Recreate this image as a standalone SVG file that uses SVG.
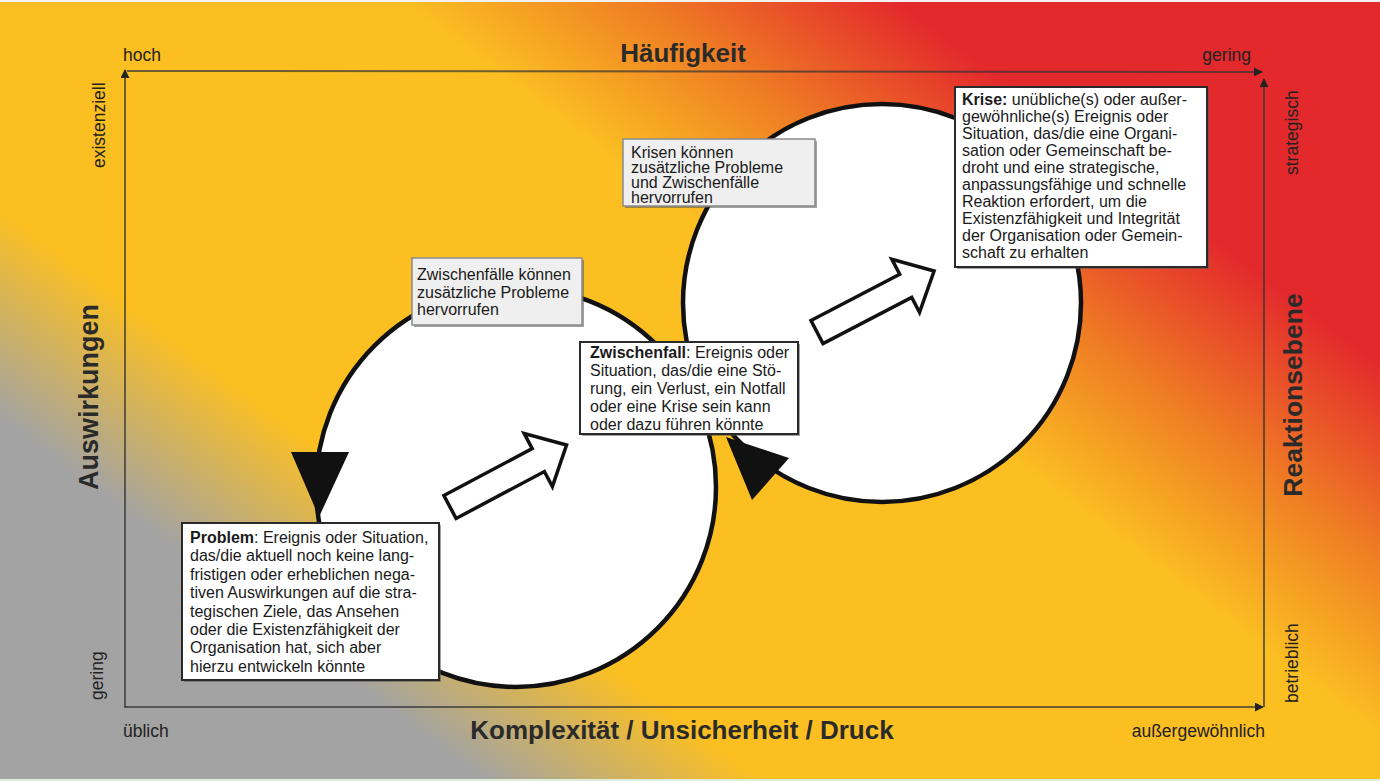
<svg xmlns="http://www.w3.org/2000/svg" width="1380" height="781" viewBox="0 0 1380 781">
  <defs>
    <linearGradient id="bg" gradientUnits="userSpaceOnUse" x1="0" y1="781" x2="871.8" y2="-381.4">
      <stop offset="0" stop-color="#a3a3a3"/>
      <stop offset="0.2" stop-color="#a3a3a3"/>
      <stop offset="0.315" stop-color="#fbbf22"/>
      <stop offset="0.595" stop-color="#fbbf22"/>
      <stop offset="0.692" stop-color="#ef7e24"/>
      <stop offset="0.8" stop-color="#e3292c"/>
      <stop offset="1" stop-color="#e3292c"/>
    </linearGradient>
    <marker id="ah" viewBox="0 0 10 10" refX="9" refY="5" markerWidth="9" markerHeight="9" markerUnits="userSpaceOnUse" orient="auto">
      <path d="M0,0 L10,5 L0,10 Z" fill="#222"/>
    </marker>
    <path id="blockArrow" d="M0,-13 L100,-13 L100,-30 L132,0 L100,30 L100,13 L0,13 Z"/>
  </defs>
  <style>
    .lbl { font-family: "Liberation Sans", Arial, sans-serif; font-size: 17.5px; fill: #222; }
    .ttl { font-family: "Liberation Sans", Arial, sans-serif; font-size: 26px; font-weight: bold; fill: #2a2a2a; }
    .box { font-family: "Liberation Sans", Arial, sans-serif; font-size: 16px; fill: #1a1a1a; }
    .b { font-weight: bold; }
    .axis { stroke: #333; stroke-opacity: 0.7; stroke-width: 2; fill: none; }
    .circ { fill: #ffffff; stroke: #111; stroke-width: 4.5; }
    .blk { fill: #ffffff; stroke: #111; stroke-width: 3.5; stroke-linejoin: miter; }
    .head { fill: #111; }
    .wbox { fill: #ffffff; stroke: #2a2a2a; stroke-width: 2; }
    .gbox { fill: #efefef; stroke: #8a8a8a; stroke-width: 1.5; }
    .shadow { fill: #555; opacity: 0.55; }
  </style>

  <rect x="0" y="0" width="1380" height="781" fill="url(#bg)"/>
  <rect x="0" y="0" width="1380" height="2" fill="#f2f2f2"/>
  <rect x="0" y="779" width="1380" height="2" fill="#dfeeda"/>

  <g id="axes">
    <line class="axis" x1="125" y1="707" x2="125" y2="70" marker-end="url(#ah)"/>
    <line class="axis" x1="127" y1="71" x2="1262" y2="72" marker-end="url(#ah)"/>
    <line class="axis" x1="1264" y1="707" x2="1264" y2="79" marker-end="url(#ah)"/>
    <line class="axis" x1="124" y1="707" x2="1263" y2="707" marker-end="url(#ah)"/>
  </g>

  <g id="axis-labels">
    <text class="lbl" x="123" y="61">hoch</text>
    <text class="ttl" x="683" y="62" text-anchor="middle">Häufigkeit</text>
    <text class="lbl" x="1251" y="61" text-anchor="end">gering</text>
    <text class="lbl" transform="translate(105,168) rotate(-90)">existenziell</text>
    <text class="ttl" transform="translate(98,397) rotate(-90)" text-anchor="middle" style="font-size:27px">Auswirkungen</text>
    <text class="lbl" transform="translate(103,700) rotate(-90)">gering</text>
    <text class="lbl" x="123" y="737">üblich</text>
    <text class="ttl" x="682" y="739" text-anchor="middle">Komplexität / Unsicherheit / Druck</text>
    <text class="lbl" x="1265" y="737" text-anchor="end">außergewöhnlich</text>
    <text class="lbl" transform="translate(1297.5,175) rotate(-90)">strategisch</text>
    <text class="ttl" transform="translate(1302,395) rotate(-90)" text-anchor="middle" style="font-size:26.5px">Reaktionsebene</text>
    <text class="lbl" transform="translate(1297.5,703) rotate(-90)">betrieblich</text>
  </g>

  <g id="cycles">
    <circle id="cycle-left" class="circ" cx="516" cy="487" r="200"/>
    <circle id="cycle-right" class="circ" cx="882" cy="303" r="199"/>
  </g>

  <g id="connectors">
    <use href="#blockArrow" class="blk" transform="translate(450,507) rotate(-28)"/>
    <use href="#blockArrow" class="blk" transform="translate(817,332) rotate(-27.5)"/>
    <polygon class="head" points="291,452 349,452 319,517"/>
    <polygon class="head" points="726,437 789,458 752,500"/>
  </g>

  <g id="node-zwischenfaelle-hinweis">
    <rect class="shadow" x="414" y="260" width="170" height="67"/>
    <rect class="gbox" x="412" y="258" width="170" height="67"/>
    <text class="box" x="417" y="280">Zwischenfälle können</text>
    <text class="box" x="417" y="298">zusätzliche Probleme</text>
    <text class="box" x="417" y="315">hervorrufen</text>
  </g>

  <g id="node-krisen-hinweis">
    <rect class="shadow" x="625" y="141" width="192" height="67"/>
    <rect class="gbox" x="623" y="139" width="192" height="67"/>
    <text class="box" x="631" y="158">Krisen können</text>
    <text class="box" x="631" y="173">zusätzliche Probleme</text>
    <text class="box" x="631" y="188">und Zwischenfälle</text>
    <text class="box" x="631" y="203">hervorrufen</text>
  </g>

  <g id="node-problem">
    <rect class="shadow" x="184" y="525" width="257" height="157"/>
    <rect class="wbox" x="182" y="523" width="257" height="157"/>
    <text class="box" x="190" y="543"><tspan class="b">Problem</tspan>: Ereignis oder Situation,</text>
    <text class="box" x="190" y="561.4">das/die aktuell noch keine lang-</text>
    <text class="box" x="190" y="579.8">fristigen oder erheblichen nega-</text>
    <text class="box" x="190" y="598.2">tiven Auswirkungen auf die stra-</text>
    <text class="box" x="190" y="616.6">tegischen Ziele, das Ansehen</text>
    <text class="box" x="190" y="635">oder die Existenzfähigkeit der</text>
    <text class="box" x="190" y="653.4">Organisation hat, sich aber</text>
    <text class="box" x="190" y="671.8">hierzu entwickeln könnte</text>
  </g>

  <g id="node-zwischenfall">
    <rect class="shadow" x="582" y="344" width="218" height="92"/>
    <rect class="wbox" x="580" y="342" width="218" height="92"/>
    <text class="box" x="590" y="358"><tspan class="b">Zwischenfall</tspan>: Ereignis oder</text>
    <text class="box" x="590" y="376">Situation, das/die eine Stö-</text>
    <text class="box" x="590" y="394">rung, ein Verlust, ein Notfall</text>
    <text class="box" x="590" y="412">oder eine Krise sein kann</text>
    <text class="box" x="590" y="430">oder dazu führen könnte</text>
  </g>

  <g id="node-krise">
    <rect class="shadow" x="957" y="89" width="252" height="180"/>
    <rect class="wbox" x="955" y="87" width="252" height="180"/>
    <text class="box" x="962" y="105"><tspan class="b">Krise:</tspan> unübliche(s) oder außer-</text>
    <text class="box" x="962" y="122">gewöhnliche(s) Ereignis oder</text>
    <text class="box" x="962" y="139">Situation, das/die eine Organi-</text>
    <text class="box" x="962" y="156">sation oder Gemeinschaft be-</text>
    <text class="box" x="962" y="173">droht und eine strategische,</text>
    <text class="box" x="962" y="190">anpassungsfähige und schnelle</text>
    <text class="box" x="962" y="207">Reaktion erfordert, um die</text>
    <text class="box" x="962" y="224">Existenzfähigkeit und Integrität</text>
    <text class="box" x="962" y="241">der Organisation oder Gemein-</text>
    <text class="box" x="962" y="258">schaft zu erhalten</text>
  </g>
</svg>
